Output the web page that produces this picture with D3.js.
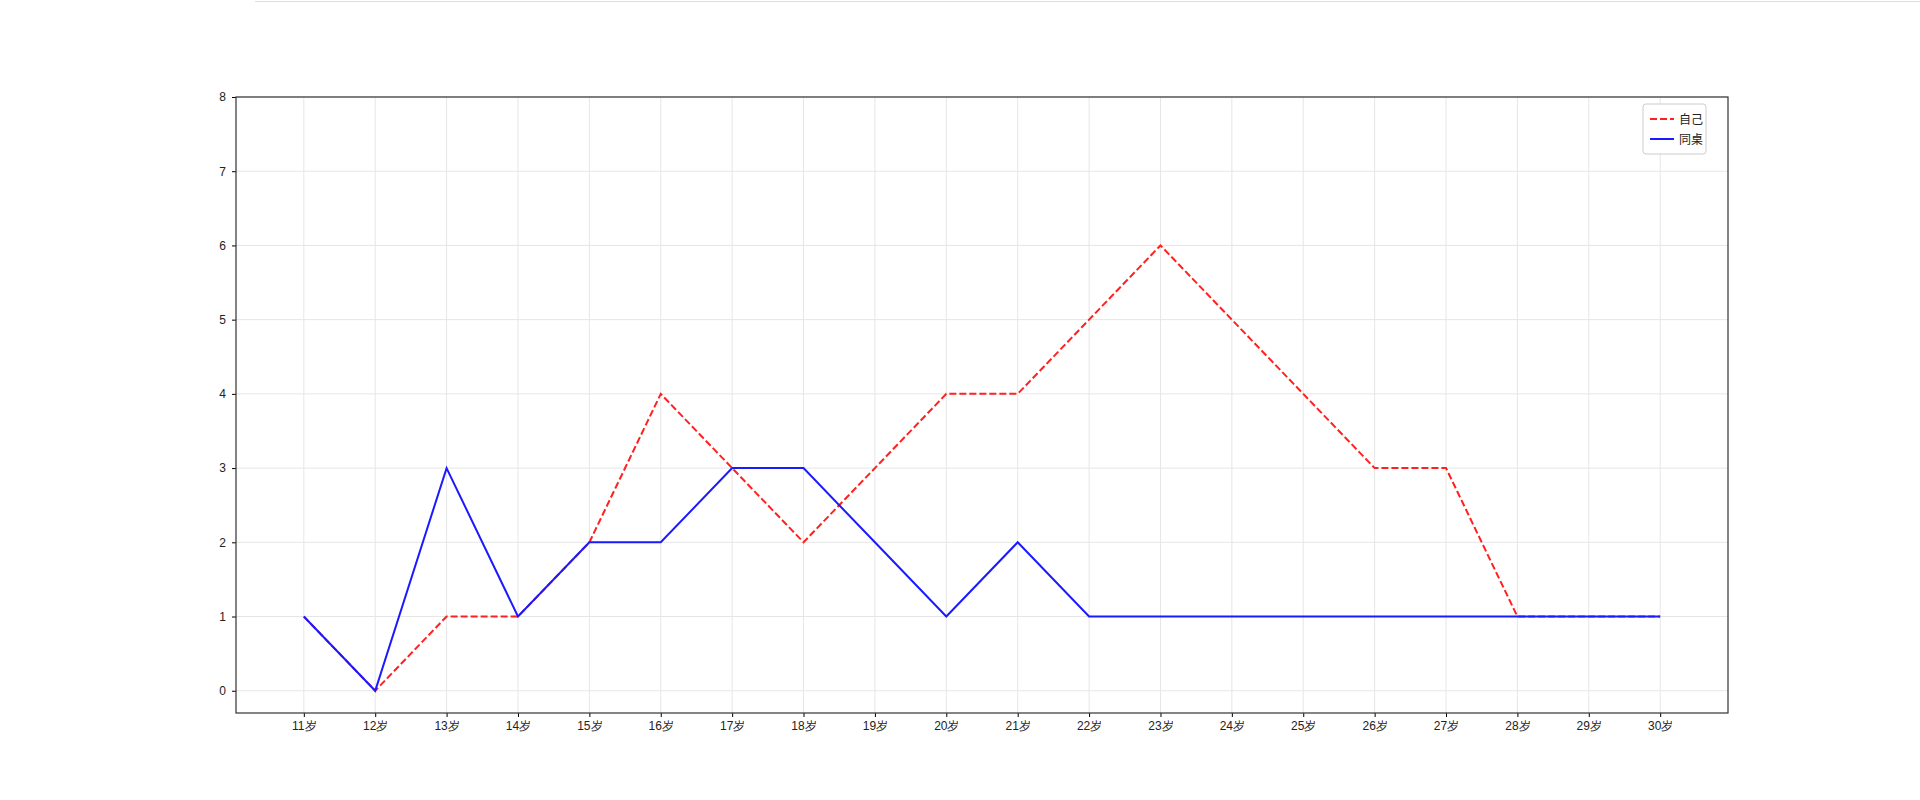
<!DOCTYPE html>
<html>
<head>
<meta charset="UTF-8">
<style>
  body { margin: 0; background: #fff; }
  svg { font-family: "DejaVu Sans", "Noto Sans CJK SC", sans-serif; }
  .grid line { stroke: #e6e6e6; stroke-width: 1; }
  .tick text { font-size: 12px; fill: #222; }
</style>
<script src="https://d3js.org/d3.v7.min.js"></script>
</head>
<body>
<svg id="chart" width="1920" height="800"></svg>
<script>
const ages = ["11岁","12岁","13岁","14岁","15岁","16岁","17岁","18岁","19岁","20岁",
              "21岁","22岁","23岁","24岁","25岁","26岁","27岁","28岁","29岁","30岁"];
const selfValues = [1,0,1,1,2,4,3,2,3,4,4,5,6,5,4,3,3,1,1,1];
const deskmateValues = [1,0,3,1,2,2,3,3,2,1,2,1,1,1,1,1,1,1,1,1];
const yTicks = [0,1,2,3,4,5,6,7,8];

const svg = d3.select('#chart');
const mLeft = 236, mRight = 1728, mTop = 97, mBottom = 713;

// faint page border at top
svg.append('line').attr('x1', 255).attr('x2', 1920).attr('y1', 1.5).attr('y2', 1.5)
  .attr('stroke', '#ddd');

const x = d3.scaleLinear().domain([-0.95, ages.length - 1 + 0.95]).range([mLeft, mRight]);
const y = d3.scaleLinear().domain([-0.3, 8]).range([mBottom, mTop]);

// grid
const g = svg.append('g').attr('class', 'grid');
g.selectAll('.vx').data(ages).enter().append('line')
  .attr('x1', (d, i) => x(i)).attr('x2', (d, i) => x(i)).attr('y1', mTop).attr('y2', mBottom);
g.selectAll('.hy').data(yTicks).enter().append('line')
  .attr('x1', mLeft).attr('x2', mRight).attr('y1', d => y(d)).attr('y2', d => y(d));

// axes
svg.append('g').attr('transform', `translate(0,${mBottom})`)
  .call(d3.axisBottom(x).tickValues(d3.range(ages.length)).tickFormat(i => ages[i]).tickSize(4).tickPadding(4))
  .call(a => a.select('.domain').remove());
svg.append('g').attr('transform', `translate(${mLeft},0)`)
  .call(d3.axisLeft(y).tickValues(yTicks).tickSize(4).tickPadding(6))
  .call(a => a.select('.domain').remove());

svg.append('rect').attr('x', mLeft).attr('y', mTop).attr('width', mRight - mLeft).attr('height', mBottom - mTop)
  .attr('fill', 'none').attr('stroke', '#333').attr('stroke-width', 1.2);

const line = d3.line().x((d, i) => x(i)).y(d => y(d));
svg.append('path').datum(selfValues).attr('d', line).attr('fill', 'none')
  .attr('stroke', '#ff2020').attr('stroke-width', 2).attr('stroke-dasharray', '7,3');
svg.append('path').datum(deskmateValues).attr('d', line).attr('fill', 'none')
  .attr('stroke', '#1a1aff').attr('stroke-width', 2);

// legend
const lg = svg.append('g').attr('transform', 'translate(1643,104)');
lg.append('rect').attr('width', 63).attr('height', 50).attr('rx', 3)
  .attr('fill', '#fff').attr('stroke', '#ccc');
const items = [
  {name: '自己', color: '#ff2020', dash: '7,3'},
  {name: '同桌', color: '#1a1aff', dash: null}
];
items.forEach((it, i) => {
  const yy = 15 + i * 20;
  lg.append('line').attr('x1', 7).attr('x2', 31).attr('y1', yy).attr('y2', yy)
    .attr('stroke', it.color).attr('stroke-width', 2).attr('stroke-dasharray', it.dash);
  lg.append('text').attr('x', 36).attr('y', yy + 4.5).attr('font-size', 12)
    .attr('fill', '#222').text(it.name);
});
</script>
</body>
</html>
